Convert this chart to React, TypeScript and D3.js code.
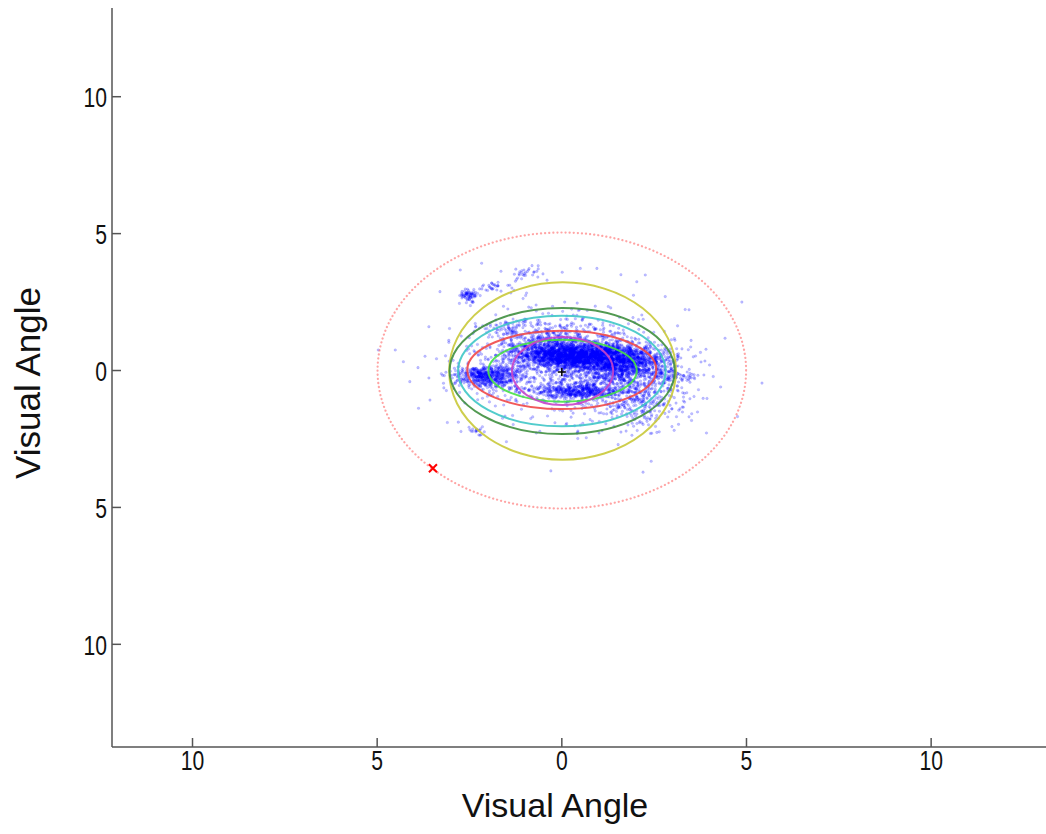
import React, { useEffect, useRef } from "react";
import * as d3 from "d3";

// Axis domains and ticks
const xDomain = [-12.18, 13.11];
const yDomain = [-13.75, 13.24];
const xTicks = [-10, -5, 0, 5, 10];
const yTicks = [-10, -5, 0, 5, 10];
const axisLabelX = "Visual Angle";
const axisLabelY = "Visual Angle";

// Fitted ellipses
const ellipseNames = ["outer", "yellow", "darkgreen", "cyan", "red", "green", "magenta"];
const ellipseCx = [0, 0.02, 0.01, 0.0, 0.0, 0.02, 0.02];
const ellipseCy = [0, -0.02, -0.02, -0.02, 0.02, -0.01, -0.02];
const ellipseRx = [4.99, 3.07, 3.05, 2.81, 2.56, 2.01, 1.37];
const ellipseRy = [5.04, 3.24, 2.3, 2.02, 1.43, 1.13, 1.24];
const ellipseColors = ["#ff5a5a", "#c9c93a", "#3f8f3f", "#3fc6c6", "#f04848", "#46e046", "#c843c8"];

// Markers
const centerMark = { x: 0.0, y: -0.05 };
const crossMark = { x: -3.49, y: -3.57 };

// Gaze sample clusters: centre, spread, count
const clusterCx = [0.7, -0.2, 1.6, 0.5, -2.0, 3.0, 0.3, 0.3, -2.55, -1.8, -1.0, -2.3, -1.3, 2.0, -0.4, 2.4];
const clusterCy = [0.55, 0.6, 0.2, -0.75, -0.2, -0.2, 0.0, 0.0, 2.75, 3.05, 3.55, -2.2, 1.5, -0.9, 1.3, -1.6];
const clusterSx = [0.9, 0.55, 0.6, 0.55, 0.45, 0.45, 1.4, 1.6, 0.13, 0.25, 0.25, 0.15, 0.35, 0.6, 0.9, 0.6];
const clusterSy = [0.25, 0.3, 0.3, 0.14, 0.2, 0.15, 0.9, 1.2, 0.1, 0.08, 0.15, 0.08, 0.15, 0.35, 0.3, 0.35];
const clusterN = [1900, 700, 900, 450, 550, 90, 700, 230, 70, 30, 30, 18, 40, 250, 250, 80];

// Sparse samples read individually
const sparseX = [-4.51, -4.29, -3.57, -3.88, 4.42, 3.34, 2.26, 2.03, 0.95, 0.5, 3.93, 4.1, 3.56, -3.3, -2.75, -2.17, 5.42, -4.97, -3.6, 3.7, 4.0, 2.8, -0.4, 1.6, -3.1, 3.2, 4.3, -1.5, 2.4, 3.5];
const sparseY = [0.75, 0.32, -1.08, -1.38, 1.18, 2.23, 3.49, 3.24, 3.73, 3.73, -1.02, -0.22, 0.5, 2.88, 3.67, 3.92, -0.46, 0.75, 1.6, -0.7, 0.2, 2.7, 3.3, 3.5, -1.9, -1.4, -0.6, -2.6, -2.3, 1.1];

export default function App() {
  const ref = useRef<SVGSVGElement>(null);

  useEffect(() => {
    const svg = d3.select(ref.current);
    svg.selectAll("*").remove();
    const x = d3.scaleLinear().domain(xDomain).range([112, 1046]);
    const y = d3.scaleLinear().domain(yDomain).range([747, 8]);
    const kx = x(1) - x(0);
    const ky = y(0) - y(1);

    const pts: [number, number][] = [];
    clusterN.forEach((n, i) => {
      const src = d3.randomLcg(0.1234 + i * 0.0731);
      const nx = d3.randomNormal.source(src)(clusterCx[i], clusterSx[i]);
      const ny = d3.randomNormal.source(src)(clusterCy[i], clusterSy[i]);
      for (let k = 0; k < n; k++) pts.push([nx(), ny()]);
    });
    sparseX.forEach((v, i) => pts.push([v, sparseY[i]]));

    svg
      .append("g")
      .selectAll("circle")
      .data(pts)
      .join("circle")
      .attr("cx", (d) => x(d[0]))
      .attr("cy", (d) => y(d[1]))
      .attr("r", 1.3)
      .attr("fill", "#0000ff")
      .attr("fill-opacity", 0.25)
      .attr("stroke", "#0000ff")
      .attr("stroke-opacity", 0.2)
      .attr("stroke-width", 0.5);

    ellipseNames.forEach((name, i) => {
      const e = svg
        .append("ellipse")
        .attr("cx", x(ellipseCx[i]))
        .attr("cy", y(ellipseCy[i]))
        .attr("rx", ellipseRx[i] * kx)
        .attr("ry", ellipseRy[i] * ky)
        .attr("fill", "none")
        .attr("stroke", ellipseColors[i]);
      if (name === "outer") {
        e.attr("stroke-width", 2.2)
          .attr("stroke-dasharray", "0.1 4")
          .attr("stroke-linecap", "round")
          .attr("stroke-opacity", 0.55);
      } else {
        e.attr("stroke-width", 2).attr("stroke-opacity", 0.9);
      }
    });

    const cx0 = x(centerMark.x), cy0 = y(centerMark.y);
    svg.append("path")
      .attr("d", `M${cx0 - 4},${cy0}H${cx0 + 4}M${cx0},${cy0 - 4}V${cy0 + 4}`)
      .attr("stroke", "#000").attr("stroke-width", 1.5);

    const rx0 = x(crossMark.x), ry0 = y(crossMark.y);
    svg.append("path")
      .attr("d", `M${rx0 - 4},${ry0 - 4}L${rx0 + 4},${ry0 + 4}M${rx0 - 4},${ry0 + 4}L${rx0 + 4},${ry0 - 4}`)
      .attr("stroke", "#ff0000").attr("stroke-width", 2);

    const axisColor = "#555";
    svg.append("line").attr("x1", 112).attr("x2", 112).attr("y1", 8).attr("y2", 747)
      .attr("stroke", axisColor).attr("stroke-width", 1.5);
    svg.append("line").attr("x1", 112).attr("x2", 1046).attr("y1", 747).attr("y2", 747)
      .attr("stroke", axisColor).attr("stroke-width", 1.5);

    const font = "'Liberation Sans', Arial, sans-serif";
    yTicks.forEach((t) => {
      svg.append("line").attr("x1", 112).attr("x2", 121).attr("y1", y(t)).attr("y2", y(t))
        .attr("stroke", axisColor).attr("stroke-width", 1.5);
      svg.append("text")
        .attr("transform", `translate(107,${y(t)}) scale(0.88,1.18)`)
        .attr("text-anchor", "end").attr("dominant-baseline", "central")
        .attr("font-family", font).attr("font-size", 24).attr("fill", "#111")
        .text(String(Math.abs(t)));
    });
    xTicks.forEach((t) => {
      svg.append("line").attr("x1", x(t)).attr("x2", x(t)).attr("y1", 747).attr("y2", 738)
        .attr("stroke", axisColor).attr("stroke-width", 1.5);
      svg.append("text")
        .attr("transform", `translate(${x(t)},770) scale(0.88,1.18)`)
        .attr("text-anchor", "middle")
        .attr("font-family", font).attr("font-size", 24).attr("fill", "#111")
        .text(String(Math.abs(t)));
    });

    svg.append("text")
      .attr("x", 555).attr("y", 817)
      .attr("text-anchor", "middle")
      .attr("font-family", font).attr("font-size", 34).attr("fill", "#111")
      .text(axisLabelX);
    svg.append("text")
      .attr("transform", `translate(40,383) rotate(-90)`)
      .attr("text-anchor", "middle")
      .attr("font-family", font).attr("font-size", 35).attr("fill", "#111")
      .text(axisLabelY);
  }, []);

  return (
    <svg
      ref={ref}
      width={1046}
      height={834}
      style={{ position: "absolute", left: 0, top: 0, background: "#fff" }}
    />
  );
}
